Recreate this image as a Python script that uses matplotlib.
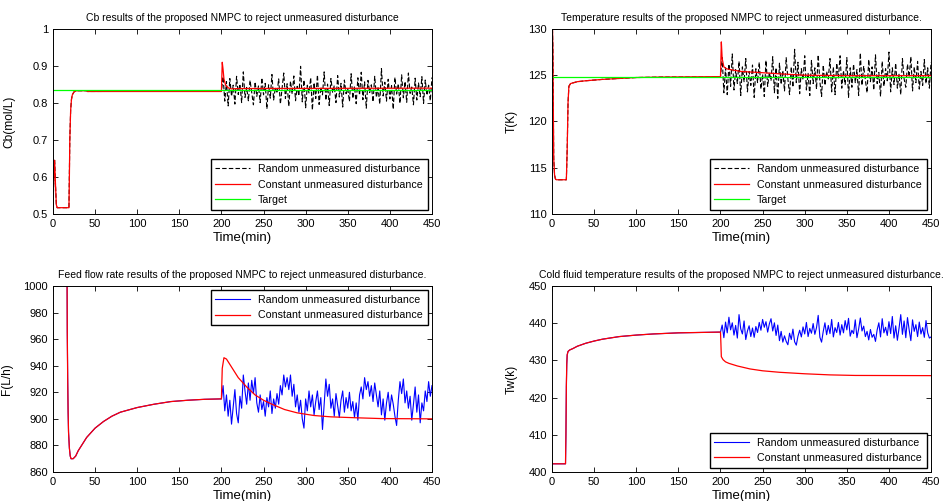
import numpy as np
import matplotlib
matplotlib.use("Agg")
import matplotlib.pyplot as plt

plt.rcParams["font.family"] = ["Liberation Sans", "DejaVu Sans"]

# === Constant unmeasured disturbance responses (breakpoints) ===
cb_t = [0, 1, 2, 3, 4, 5, 19, 19.5, 20, 21, 22, 23, 25, 28, 32, 40, 41, 200, 201, 202,
        203, 205, 208, 212, 220, 450]
cb_const = [0.50, 0.60, 0.645, 0.58, 0.525, 0.517, 0.517, 0.60, 0.70, 0.78, 0.81, 0.822,
            0.830, 0.833, 0.833, 0.833, 0.831, 0.831, 0.91, 0.89, 0.865, 0.848, 0.841,
            0.838, 0.839, 0.840]
cb_target = 0.835

temp_t = [0, 0.5, 1, 2, 3, 4, 5, 17, 18, 19, 20, 22, 26, 30, 40, 60, 80, 100, 130, 200,
          201, 202, 204, 207, 212, 225, 245, 270, 300, 350, 450]
temp_const = [123.5, 130, 128, 116, 114.2, 113.8, 113.7, 113.7, 117, 122, 123.8, 124.1,
              124.2, 124.3, 124.4, 124.55, 124.65, 124.75, 124.8, 124.85, 128.6, 126.8,
              125.9, 125.7, 125.6, 125.4, 125.3, 125.15, 125.0, 124.95, 124.95]
temp_target = 124.8

flow_t = [0, 16.5, 17, 17.5, 18, 18.5, 19.5, 20.5, 21.5, 24, 27, 30, 35, 40, 50, 60, 70,
          80, 100, 120, 140, 160, 180, 198, 200, 201, 203, 206, 210, 215, 220, 230, 240, 250,
          260, 275, 290, 310, 330, 360, 390, 450]
flow_const = [1050, 1050, 965, 930, 905, 890, 878, 872, 870, 870, 872, 876, 881, 886, 893,
              898, 902, 905, 908.5, 911, 913, 914, 914.7, 915, 915, 938, 946, 945, 941, 936,
              931, 924, 918, 914, 911, 907, 904.5, 902.5, 901.5, 900.8, 900.2, 900]

tw_t = [0, 16, 16.5, 17, 17.5, 18, 19, 21, 25, 30, 40, 50, 60, 80, 100, 120, 150, 198, 200,
        200.5, 201, 203, 206, 210, 220, 235, 250, 270, 300, 330, 360, 450]
tw_const = [402.2, 402.2, 410, 423, 429, 431.5, 432.4, 432.8, 433.2, 433.8, 434.6, 435.2,
            435.7, 436.4, 436.8, 437.1, 437.4, 437.6, 437.6, 434.5, 431, 430.2, 429.6, 429.2,
            428.5, 427.7, 427.2, 426.8, 426.4, 426.1, 425.95, 425.9]

# === Random unmeasured disturbance, t = 200..450 every 2 min ===
rand_t = np.arange(200, 451, 2)

cb_rand = [0.832, 0.871, 0.805, 0.858, 0.792, 0.866, 0.818, 0.848, 0.797, 0.872,
           0.823, 0.851, 0.801, 0.884, 0.815, 0.842, 0.806, 0.861, 0.829, 0.795,
           0.857, 0.818, 0.846, 0.801, 0.868, 0.822, 0.853, 0.784, 0.849, 0.813,
           0.877, 0.808, 0.842, 0.826, 0.865, 0.797, 0.838, 0.881, 0.812, 0.852,
           0.791, 0.859, 0.824, 0.873, 0.806, 0.845, 0.819, 0.899, 0.803, 0.862,
           0.787, 0.848, 0.827, 0.868, 0.781, 0.855, 0.812, 0.876, 0.796, 0.843,
           0.822, 0.884, 0.807, 0.851, 0.793, 0.866, 0.829, 0.847, 0.801, 0.874,
           0.816, 0.853, 0.789, 0.862, 0.825, 0.838, 0.804, 0.879, 0.812, 0.845,
           0.798, 0.868, 0.821, 0.883, 0.809, 0.857, 0.786, 0.861, 0.828, 0.849,
           0.803, 0.872, 0.815, 0.841, 0.797, 0.893, 0.819, 0.856, 0.805, 0.864,
           0.811, 0.847, 0.783, 0.869, 0.824, 0.852, 0.799, 0.876, 0.814, 0.858,
           0.802, 0.881, 0.826, 0.843, 0.795, 0.867, 0.808, 0.854, 0.817, 0.871,
           0.799, 0.862, 0.821, 0.848, 0.806, 0.869]

temp_rand = [124.8, 126.9, 123.1, 125.8, 122.9, 126.2, 123.8, 127.3, 123.4, 125.6,
             124.1, 126.5, 122.8, 125.9, 124.3, 126.8, 123.2, 125.4, 123.9, 126.1,
             122.6, 125.7, 124.2, 126.4, 123.5, 125.1, 122.7, 126.6, 123.8, 125.3,
             124.4, 127.0, 123.1, 125.8, 122.5, 126.3, 124.0, 125.5, 123.3, 126.9,
             124.6, 122.9, 125.9, 123.7, 127.8, 124.2, 126.4, 123.0, 125.7, 124.5,
             127.1, 123.4, 125.2, 122.8, 126.6, 124.1, 125.8, 123.5, 127.2, 124.3,
             122.7, 126.1, 123.9, 125.4, 124.6, 126.8, 123.2, 125.9, 122.9, 126.3,
             124.7, 127.1, 123.6, 125.5, 124.0, 126.9, 122.6, 125.8, 123.7, 126.2,
             124.2, 125.6, 122.8, 127.4, 123.9, 126.0, 124.5, 123.1, 126.7, 124.3,
             125.9, 123.4, 127.2, 124.1, 125.3, 122.7, 126.5, 123.8, 125.7, 124.4,
             127.5, 123.2, 125.8, 124.0, 126.3, 123.6, 125.1, 122.9, 126.8, 124.6,
             123.7, 126.2, 124.8, 127.0, 123.3, 125.9, 124.2, 126.5, 123.5, 125.4,
             123.9, 126.7, 124.1, 125.8, 123.6, 126.4]

flow_rand = [915, 925, 906, 918, 902, 914, 896, 909, 922, 904,
             897, 917, 908, 933, 921, 911, 927, 914, 929, 919,
             931, 912, 905, 918, 907, 913, 902, 916, 909, 921,
             904, 915, 908, 919, 911, 925, 918, 933, 924, 931,
             922, 933, 917, 926, 909, 918, 905, 914, 900, 893,
             915, 906, 921, 909, 918, 903, 913, 921, 907, 916,
             892, 911, 930, 917, 926, 908, 915, 902, 919, 910,
             901, 914, 921, 905, 916, 908, 920, 906, 913, 901,
             912, 899, 918, 924, 915, 931, 922, 928, 917, 925,
             913, 927, 918, 909, 921, 903, 915, 899, 912, 920,
             906, 918, 911, 902, 895, 914, 928, 919, 930, 912,
             921, 908, 917, 899, 911, 924, 905, 918, 897, 912,
             906, 921, 913, 928, 917, 925]

tw_rand = [437.6, 439.5, 436.1, 440.3, 437.4, 441.6, 438.2, 440.1, 436.8, 439.4,
           436.0, 442.3, 438.5, 437.1, 440.6, 435.6, 437.9, 439.3, 436.4, 438.7,
           436.2, 439.1, 437.5, 440.2, 438.1, 441.0, 438.9, 440.4, 437.6, 439.8,
           441.2, 437.9, 440.1, 436.7, 439.5, 435.3, 437.8, 434.9, 436.6, 435.1,
           434.2, 437.3, 435.6, 438.4, 435.0, 434.1, 436.5, 438.1, 436.3, 439.0,
           437.1, 440.2, 436.4, 438.6, 437.3, 439.9, 437.0, 438.8, 442.1, 436.2,
           434.9, 437.8, 440.1, 436.9, 439.4, 437.2, 441.0, 436.3, 438.8, 437.5,
           440.2, 436.8, 439.6, 437.4, 440.7, 438.2, 441.3, 436.5, 438.1, 437.2,
           440.9, 436.1, 438.4, 441.4, 437.9, 439.2, 436.4, 437.8, 435.5, 438.3,
           436.2, 437.0, 435.1, 438.2, 440.1, 436.3, 441.2, 437.4, 438.9, 436.7,
           440.4, 437.2, 441.8, 436.0, 439.3, 435.4, 438.7, 442.3, 437.0, 440.6,
           436.1, 441.5, 438.2, 435.3, 440.9, 437.8, 439.6, 436.4, 440.3, 437.1,
           438.8, 436.2, 440.7, 437.4, 436.0, 436.3]


def random_series(t_const, y_const, y_rand):
    # same as the constant case until the disturbance kicks in at t = 200
    t_const = np.asarray(t_const, float)
    y_const = np.asarray(y_const, float)
    keep = t_const < 200
    return (np.concatenate([t_const[keep], rand_t]),
            np.concatenate([y_const[keep], np.asarray(y_rand, float)]))


def style_axes(ax, ylim, yticks, ylabel, title, lab_x):
    ax.set_xlim(0, 450)
    ax.set_xticks(range(0, 451, 50))
    ax.set_ylim(*ylim)
    ax.set_yticks(yticks)
    ax.tick_params(direction="in", top=True, right=True, labelsize=8, length=3.5, width=0.6)
    for s in ax.spines.values():
        s.set_linewidth(0.7)
    ax.set_xlabel("Time(min)", fontsize=9.5, labelpad=2.5)
    ax.set_ylabel(ylabel, fontsize=8.6)
    ax.yaxis.set_label_coords(lab_x, 0.5)
    ax.set_title(title, fontsize=7.5, pad=6)


leg_kw = dict(fontsize=7.7, fancybox=False, framealpha=1, edgecolor="black",
              handlelength=3.2, labelspacing=0.5, borderpad=0.45, borderaxespad=0.4)

fig = plt.figure(figsize=(9.49, 5.01), dpi=100)
ax1 = fig.add_axes([0.0558, 0.5729, 0.3994, 0.3693])
ax2 = fig.add_axes([0.5817, 0.5729, 0.3994, 0.3693])
ax3 = fig.add_axes([0.0558, 0.0579, 0.3994, 0.3713])
ax4 = fig.add_axes([0.5817, 0.0579, 0.3994, 0.3713])

# === Cb ===
rt, ry = random_series(cb_t, cb_const, cb_rand)
ax1.plot(rt, ry, "k--", lw=0.8, dashes=(4, 2), label="Random unmeasured disturbance")
ax1.plot(cb_t, cb_const, color="#ff0000", lw=0.9, label="Constant unmeasured disturbance")
ax1.plot([0, 450], [cb_target, cb_target], color="#00ff00", lw=0.9, label="Target")
style_axes(ax1, (0.5, 1.0), [0.5, 0.6, 0.7, 0.8, 0.9, 1.0], "Cb(mol/L)",
           "Cb results of the proposed NMPC to reject unmeasured disturbance", -0.1)
ax1.set_yticklabels(["0.5", "0.6", "0.7", "0.8", "0.9", "1"])
ax1.legend(loc="lower right", **leg_kw)

# === Temperature ===
rt, ry = random_series(temp_t, temp_const, temp_rand)
ax2.plot(rt, ry, "k--", lw=0.8, dashes=(4, 2), label="Random unmeasured disturbance")
ax2.plot(temp_t, temp_const, color="#ff0000", lw=0.9, label="Constant unmeasured disturbance")
ax2.plot([0, 450], [temp_target, temp_target], color="#00ff00", lw=0.9, label="Target")
style_axes(ax2, (110, 130), [110, 115, 120, 125, 130], "T(K)",
           "Temperature results of the proposed NMPC to reject unmeasured disturbance.", -0.09)
ax2.legend(loc="lower right", **leg_kw)

# === Feed flow rate ===
rt, ry = random_series(flow_t, flow_const, flow_rand)
ax3.plot(rt, ry, color="#0000ff", lw=0.8, label="Random unmeasured disturbance")
ax3.plot(flow_t, flow_const, color="#ff0000", lw=0.9, label="Constant unmeasured disturbance")
style_axes(ax3, (860, 1000), range(860, 1001, 20), "F(L/h)",
           "Feed flow rate results of the proposed NMPC to reject unmeasured disturbance.", -0.105)
ax3.legend(loc="upper right", **leg_kw)

# === Cold fluid temperature ===
rt, ry = random_series(tw_t, tw_const, tw_rand)
ax4.plot(rt, ry, color="#0000ff", lw=0.8, label="Random unmeasured disturbance")
ax4.plot(tw_t, tw_const, color="#ff0000", lw=0.9, label="Constant unmeasured disturbance")
style_axes(ax4, (400, 450), range(400, 451, 10), "Tw(k)",
           "Cold fluid temperature results of the proposed NMPC to reject unmeasured disturbance.", -0.09)
ax4.legend(loc="lower right", **leg_kw)

fig.savefig("out.png", dpi=100)
